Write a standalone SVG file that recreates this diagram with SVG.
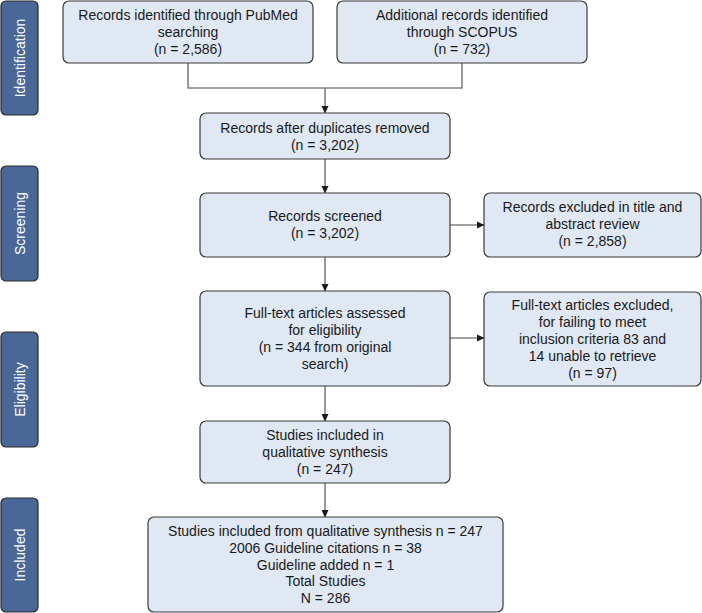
<svg xmlns="http://www.w3.org/2000/svg" width="702" height="613" viewBox="0 0 702 613">
<defs>
<marker id="arr" markerWidth="8" markerHeight="8" refX="7" refY="4" orient="auto" markerUnits="userSpaceOnUse">
<path d="M0,0.5 L7.5,4 L0,7.5 Z" fill="#1a1a1a"/>
</marker>
<style>
.box{fill:#dfe8f3;stroke:#3a3a3a;stroke-width:1.2}
.side{fill:#4a6897;stroke:#2a2a2a;stroke-width:1.2}
.t{font-family:"Liberation Sans",Arial,Helvetica,sans-serif;font-size:14px;fill:#1a1a1a;text-anchor:middle}
.st{font-family:"Liberation Sans",Arial,Helvetica,sans-serif;font-size:14px;fill:#ffffff;text-anchor:middle}
.c{fill:none;stroke:#808080;stroke-width:1.6}
</style>
</defs>
<rect width="702" height="613" fill="#ffffff"/>

<g id="side-identification">
<rect class="side" x="1" y="1" width="37" height="114" rx="5"/>
<text class="st" transform="translate(24.5,58) rotate(-90)">Identification</text>
</g>
<g id="side-screening">
<rect class="side" x="1" y="166" width="37" height="115" rx="5"/>
<text class="st" transform="translate(24.5,223.5) rotate(-90)">Screening</text>
</g>
<g id="side-eligibility">
<rect class="side" x="1" y="332" width="37" height="115" rx="5"/>
<text class="st" transform="translate(24.5,389.5) rotate(-90)">Eligibility</text>
</g>
<g id="side-included">
<rect class="side" x="1" y="498" width="37" height="114" rx="5"/>
<text class="st" transform="translate(24.5,555) rotate(-90)">Included</text>
</g>

<g id="connectors">
<polyline class="c" points="188,63 188,88 462,88 462,63"/>
<line class="c" x1="325" y1="88" x2="325" y2="113" marker-end="url(#arr)"/>
<line class="c" x1="325" y1="159" x2="325" y2="193" marker-end="url(#arr)"/>
<line class="c" x1="325" y1="257" x2="325" y2="291" marker-end="url(#arr)"/>
<line class="c" x1="325" y1="386" x2="325" y2="421" marker-end="url(#arr)"/>
<line class="c" x1="325" y1="483" x2="325" y2="517" marker-end="url(#arr)"/>
<line class="c" x1="450" y1="225" x2="484" y2="225" marker-end="url(#arr)"/>
<line class="c" x1="450" y1="338" x2="484" y2="338" marker-end="url(#arr)"/>
</g>

<g id="pubmed">
<rect class="box" x="63" y="1" width="250" height="62" rx="6"/>
<text class="t" x="188" y="20">Records identified through PubMed<tspan x="188" dy="17">searching</tspan><tspan x="188" dy="17">(n = 2,586)</tspan></text>
</g>
<g id="scopus">
<rect class="box" x="337" y="1" width="250" height="62" rx="6"/>
<text class="t" x="462" y="20">Additional records identified<tspan x="462" dy="17">through SCOPUS</tspan><tspan x="462" dy="17">(n = 732)</tspan></text>
</g>
<g id="duplicates">
<rect class="box" x="200" y="113" width="250" height="46" rx="6"/>
<text class="t" x="325" y="133">Records after duplicates removed<tspan x="325" dy="17">(n = 3,202)</tspan></text>
</g>
<g id="screened">
<rect class="box" x="200" y="193" width="250" height="64" rx="6"/>
<text class="t" x="325" y="221">Records screened<tspan x="325" dy="17">(n = 3,202)</tspan></text>
</g>
<g id="excluded-screen">
<rect class="box" x="484" y="193" width="217" height="64" rx="6"/>
<text class="t" x="592.5" y="212">Records excluded in title and<tspan x="592.5" dy="17">abstract review</tspan><tspan x="592.5" dy="17">(n = 2,858)</tspan></text>
</g>
<g id="fulltext">
<rect class="box" x="200" y="291" width="250" height="95" rx="6"/>
<text class="t" x="325" y="318">Full-text articles assessed<tspan x="325" dy="17">for eligibility</tspan><tspan x="325" dy="17">(n = 344 from original</tspan><tspan x="325" dy="17">search)</tspan></text>
</g>
<g id="excluded-fulltext">
<rect class="box" x="484" y="292" width="217" height="94" rx="6"/>
<text class="t" x="592.5" y="310">Full-text articles excluded,<tspan x="592.5" dy="17">for failing to meet</tspan><tspan x="592.5" dy="17">inclusion criteria 83 and</tspan><tspan x="592.5" dy="17">14 unable to retrieve</tspan><tspan x="592.5" dy="17">(n = 97)</tspan></text>
</g>
<g id="qualitative">
<rect class="box" x="200" y="421" width="250" height="62" rx="6"/>
<text class="t" x="325" y="440">Studies included in<tspan x="325" dy="17">qualitative synthesis</tspan><tspan x="325" dy="17">(n = 247)</tspan></text>
</g>
<g id="included">
<rect class="box" x="148" y="517" width="355" height="95" rx="6"/>
<text class="t" x="325.5" y="536">Studies included from qualitative synthesis n = 247<tspan x="325.5" dy="16.8">2006 Guideline citations n = 38</tspan><tspan x="325.5" dy="16.8">Guideline added n = 1</tspan><tspan x="325.5" dy="16.8">Total Studies</tspan><tspan x="325.5" dy="16.8">N = 286</tspan></text>
</g>
</svg>
